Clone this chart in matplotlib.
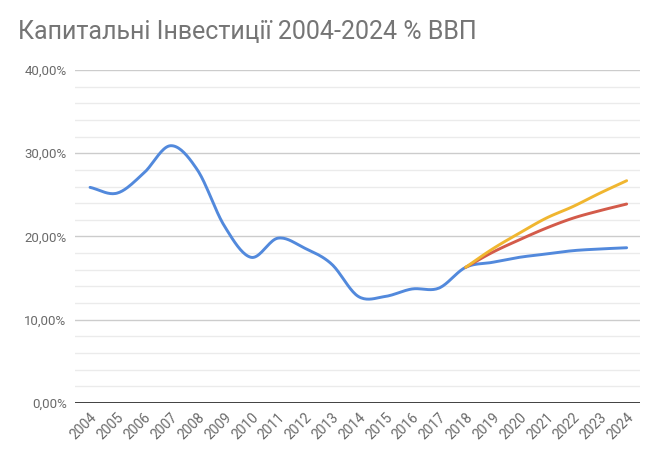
import numpy as np
import matplotlib.pyplot as plt
from matplotlib.ticker import MultipleLocator, FuncFormatter

years = list(range(2004, 2025))
base = [25.9, 25.2, 27.6, 30.9, 28.0, 21.3, 17.5, 19.8, 18.6, 16.7, 12.8,
        12.8, 13.7, 13.8, 16.3, 16.9, 17.5, 17.9, 18.3, 18.5, 18.65]
red_years = list(range(2018, 2025))
red = [16.3, 18.1, 19.6, 21.0, 22.2, 23.1, 23.9]
yellow = [16.3, 18.5, 20.4, 22.2, 23.6, 25.2, 26.7]

title = "Капитальні Інвестиції 2004-2024 % ВВП"


def smooth(xs, ys, n=20):
    # сглаживание эрмитовыми сплайнами как в google sheets
    xs = np.asarray(xs, float)
    ys = np.asarray(ys, float)
    m = np.gradient(ys, xs)
    ox, oy = [], []
    for i in range(len(xs) - 1):
        t = np.linspace(0, 1, n, endpoint=False)
        h = xs[i + 1] - xs[i]
        h00 = 2 * t**3 - 3 * t**2 + 1
        h10 = t**3 - 2 * t**2 + t
        h01 = -2 * t**3 + 3 * t**2
        h11 = t**3 - t**2
        ox.extend(xs[i] + t * h)
        oy.extend(h00 * ys[i] + h10 * h * m[i] + h01 * ys[i + 1] + h11 * h * m[i + 1])
    ox.append(xs[-1])
    oy.append(ys[-1])
    return ox, oy


plt.rcParams['font.family'] = ['Roboto', 'DejaVu Sans']
fig = plt.figure(figsize=(6.54, 4.57), dpi=100)
ax = fig.add_axes([0.1147, 0.118, 0.864, 0.729])

idx = [y - 2004 for y in years]
ridx = [y - 2004 for y in red_years]

ax.plot(*smooth(idx, base), color='#5289dc', lw=2.1, solid_capstyle='round', zorder=3)
ax.plot(*smooth(ridx, red), color='#d35b4a', lw=2.1, solid_capstyle='round', zorder=3)
ax.plot(*smooth(ridx, yellow), color='#f0b630', lw=2.1, solid_capstyle='round', zorder=3)

ax.set_xlim(-0.56, 20.5)
ax.set_ylim(0, 40)
ax.yaxis.set_major_locator(MultipleLocator(10))
ax.yaxis.set_minor_locator(MultipleLocator(2))
ax.yaxis.set_major_formatter(FuncFormatter(lambda v, p: f"{v:.2f}%".replace('.', ',')))
ax.grid(axis='y', which='major', color='#cccccc', lw=1)
ax.grid(axis='y', which='minor', color='#ebebeb', lw=1)
ax.axhline(0, color='#333333', lw=1.3, zorder=2)

ax.set_xticks(idx)
ax.set_xticklabels([str(y) for y in years], rotation=45, ha='right',
                   rotation_mode='anchor', fontsize=10, color='#6a6a6a')
ax.tick_params(axis='y', which='both', length=0, labelsize=9.5, labelcolor='#6a6a6a', pad=6)
ax.tick_params(axis='x', length=0, pad=5)
for s in ax.spines.values():
    s.set_visible(False)

fig.text(0.028, 0.915, title, fontsize=18, color='#757575', va='baseline')

fig.savefig('out.png', dpi=100)
